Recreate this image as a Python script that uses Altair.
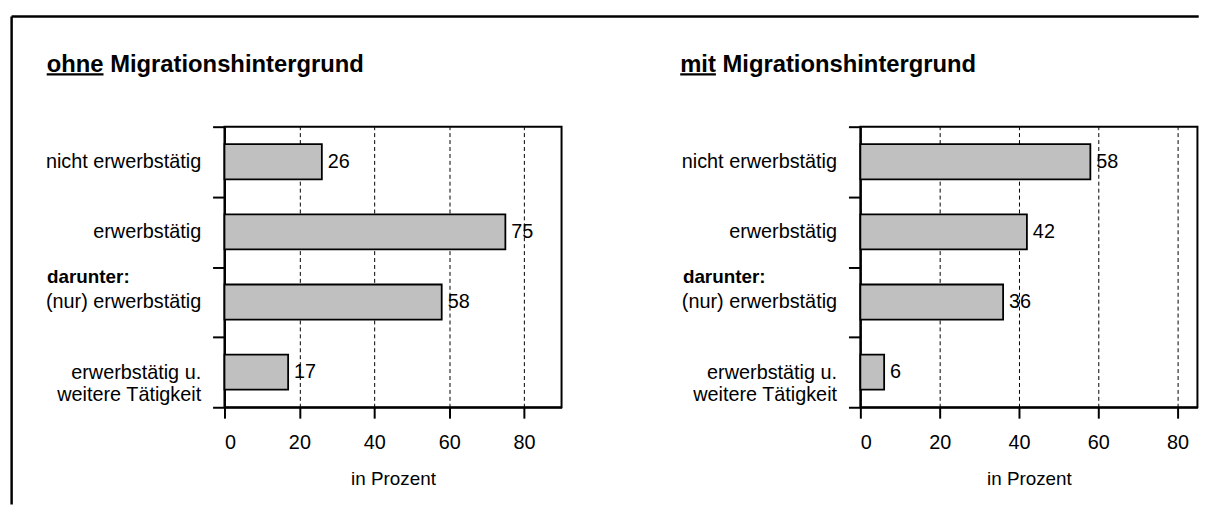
import altair as alt
import pandas as pd

# ---- data ----
categories = [
    "nicht erwerbstätig",
    "erwerbstätig",
    "(nur) erwerbstätig",
    "erwerbstätig u. weitere Tätigkeit",
]
ohne_values = [26, 75, 58, 17]
mit_values = [58, 42, 36, 6]
x_ticks = [0, 20, 40, 60, 80]
x_title = "in Prozent"
group_note = ["darunter:"]
group_note_category = ["(nur) erwerbstätig"]
panel_titles = ["ohne Migrationshintergrund", "mit Migrationshintergrund"]
underlined_words = ["ohne", "mit"]

FONT = "Liberation Sans"

label_expr = (
    "datum.label == 'erwerbstätig u. weitere Tätigkeit' ? "
    "['erwerbstätig u.', 'weitere Tätigkeit'] : datum.label"
)


def panel(values, xmax, title, word_w, title_x, with_frame=False):
    df = pd.DataFrame({"cat": categories, "val": values})
    y_enc = alt.Y(
        "cat:N",
        sort=categories,
        scale=alt.Scale(paddingInner=0, paddingOuter=0),
        axis=alt.Axis(
            title=None,
            tickBand="extent",
            labelExpr=label_expr,
            labelFont=FONT,
            labelColor="black",
            labelFontSize=20,
            labelPadding=12,
            labelLimit=400,
            labelLineHeight=23,
            tickSize=12,
            tickWidth=2,
            tickColor="black",
            domainColor="black",
            domainWidth=2,
            grid=False,
        ),
    )
    x_enc = alt.X(
        "val:Q",
        scale=alt.Scale(domain=[0, xmax], nice=False, zero=True),
        axis=alt.Axis(
            values=x_ticks,
            title=x_title,
            titleFont=FONT,
            titleColor="black",
            titleFontSize=19,
            titleFontWeight="normal",
            titlePadding=17,
            labelFont=FONT,
            labelColor="black",
            labelFontSize=20,
            labelPadding=15,
            tickSize=11,
            tickWidth=2,
            tickColor="black",
            domainColor="black",
            domainWidth=2,
            grid=True,
            gridColor="black",
            gridDash=[4, 3],
            gridWidth=1,
            gridOpacity=1,
        ),
    )
    base = alt.Chart(df)
    bars = base.mark_bar(
        color="#c0c0c0", stroke="black", strokeWidth=1.8, height={"band": 0.5}
    ).encode(x=x_enc, y=y_enc)
    vals = base.mark_text(
        align="left", baseline="middle", dx=6, font=FONT, fontSize=20, color="black"
    ).encode(x="val:Q", y=alt.Y("cat:N", sort=categories), text="val:Q")

    note = alt.Chart(
        pd.DataFrame({"cat": group_note_category, "t": group_note})
    ).mark_text(
        align="left", baseline="middle", dy=-25, font=FONT, fontSize=19,
        fontWeight="bold", color="black",
    ).encode(x=alt.value(-179), y=alt.Y("cat:N", sort=categories), text="t:N")

    ttl = alt.Chart(pd.DataFrame({"t": [title]})).mark_text(
        align="left", baseline="alphabetic", font=FONT, fontSize=24,
        fontWeight="bold", color="black",
    ).encode(x=alt.value(title_x), y=alt.value(-55.3), text="t:N")

    underline = alt.Chart(pd.DataFrame({"a": [0]})).mark_rule(
        color="black", strokeWidth=2.2
    ).encode(
        x=alt.value(title_x), x2=alt.value(title_x + word_w), y=alt.value(-52.7)
    )

    layers = [bars, vals, note, ttl, underline]
    if with_frame:
        one = pd.DataFrame({"a": [0]})
        vline = alt.Chart(one).mark_rule(color="black", strokeWidth=2.5).encode(
            x=alt.value(-214.7), y=alt.value(-111.2), y2=alt.value(381)
        )
        hline = alt.Chart(one).mark_rule(color="black", strokeWidth=2.5).encode(
            x=alt.value(-214.7), x2=alt.value(982.7), y=alt.value(-111.2)
        )
        layers += [vline, hline]
    return alt.layer(*layers).properties(width=340, height=283)


left = panel(ohne_values, 90, panel_titles[0], 57.3, -179.3, with_frame=True)
right = panel(mit_values, 85, panel_titles[1], 36.0, -181.7)

chart = (
    alt.hconcat(left, right, spacing=301.4, bounds="flush")
    .properties(
        padding={"left": 1.35, "top": 3.55, "right": 0, "bottom": 0},
        background="white",
    )
    .configure_view(stroke="black", strokeWidth=2)
)

chart.save("out.html", embed_options={"renderer": "svg", "actions": False})
